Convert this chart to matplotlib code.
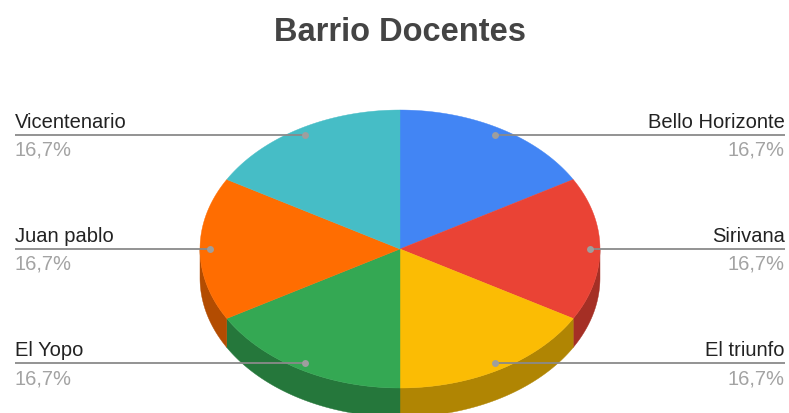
import numpy as np
import matplotlib.pyplot as plt
from matplotlib.patches import Polygon

plt.rcParams['font.family'] = ['Liberation Sans', 'DejaVu Sans']

title = "Barrio Docentes"
labels = ["Bello Horizonte", "Sirivana", "El triunfo", "El Yopo", "Juan pablo", "Vicentenario"]
values = [1, 1, 1, 1, 1, 1]
top_colors = ["#4285F4", "#EA4335", "#FBBC04", "#34A853", "#FF6D01", "#46BDC6"]
side_colors = ["#2E5DAA", "#A52F25", "#B08503", "#25773B", "#B34C01", "#31858B"]

W, H = 789, 413
cx, cy = 400, 249
rx, ry = 200, 139
depth = 29

fig = plt.figure(figsize=(W / 100, H / 100), dpi=100)
ax = fig.add_axes([0, 0, 1, 1])
ax.set_xlim(0, W)
ax.set_ylim(H, 0)
ax.axis("off")


def pt(t, r=1.0, dy=0.0):
    # t: angle in radians, clockwise from 12 o'clock
    return cx + r * rx * np.sin(t), cy - r * ry * np.cos(t) + dy


total = float(sum(values))
bounds = np.concatenate([[0], np.cumsum(values)]) / total * 2 * np.pi

# side walls (only the front half, between 90 and 270 degrees)
for i in range(len(values)):
    a0 = max(bounds[i], np.pi / 2)
    a1 = min(bounds[i + 1], 3 * np.pi / 2)
    if a1 <= a0:
        continue
    ts = np.linspace(a0, a1, 60)
    upper = [pt(t) for t in ts]
    lower = [pt(t, dy=depth) for t in ts[::-1]]
    ax.add_patch(Polygon(upper + lower, closed=True, facecolor=side_colors[i],
                         edgecolor=side_colors[i], linewidth=0.3))

# top faces
for i in range(len(values)):
    ts = np.linspace(bounds[i], bounds[i + 1], 80)
    verts = [(cx, cy)] + [pt(t) for t in ts]
    ax.add_patch(Polygon(verts, closed=True, facecolor=top_colors[i],
                         edgecolor=top_colors[i], linewidth=0.3))

# labels with leader lines
for i, name in enumerate(labels):
    mid = (bounds[i] + bounds[i + 1]) / 2
    dx, dyp = pt(mid, r=0.95)
    right = mid < np.pi
    xe = 785 if right else 15
    ax.plot([dx, xe], [dyp, dyp], color="#8a8a8a", linewidth=1.3, solid_capstyle="butt")
    ax.plot(dx, dyp, "o", color="#9e9e9e", markersize=5, markeredgewidth=0)
    ha = "right" if right else "left"
    pct = "{:.1f}%".format(100 * values[i] / total).replace(".", ",")
    ax.text(xe, dyp - 7, name, ha=ha, va="baseline", fontsize=14.5, color="#222222")
    ax.text(xe, dyp + 21, pct, ha=ha, va="baseline", fontsize=14.5, color="#a3a3a3")

ax.text(400, 41, title, ha="center", va="baseline", fontsize=23.5, fontweight="bold",
        color="#444444")

fig.savefig("out.png", dpi=100)
